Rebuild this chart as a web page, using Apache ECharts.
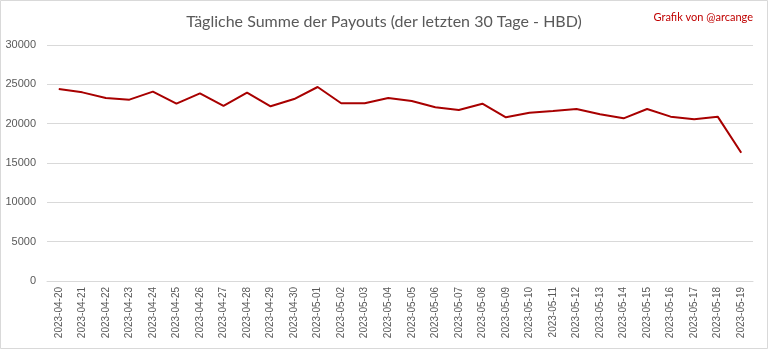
<!DOCTYPE html>
<html>
<head>
<meta charset="utf-8">
<script src="https://cdn.jsdelivr.net/npm/echarts@6/dist/echarts.min.js"></script>
<style>
  html, body { margin: 0; padding: 0; background: #fff; }
  #chart { width: 768px; height: 349px; }
</style>
</head>
<body>
<div id="chart"></div>
<script>
// Daily HBD payout totals over the last 30 days
const days = [
  '2023-04-20', '2023-04-21', '2023-04-22', '2023-04-23', '2023-04-24',
  '2023-04-25', '2023-04-26', '2023-04-27', '2023-04-28', '2023-04-29',
  '2023-04-30', '2023-05-01', '2023-05-02', '2023-05-03', '2023-05-04',
  '2023-05-05', '2023-05-06', '2023-05-07', '2023-05-08', '2023-05-09',
  '2023-05-10', '2023-05-11', '2023-05-12', '2023-05-13', '2023-05-14',
  '2023-05-15', '2023-05-16', '2023-05-17', '2023-05-18', '2023-05-19'
];
const payouts = [
  24400, 23980, 23260, 23050, 24070, 22540, 23860, 22250, 23940, 22210,
  23130, 24660, 22590, 22590, 23260, 22880, 22080, 21740, 22540, 20810,
  21400, 21610, 21860, 21190, 20680, 21860, 20890, 20550, 20890, 16310
];
const titleText = 'Tägliche Summe der Payouts (der letzten 30 Tage - HBD)';
const creditText = 'Grafik von @arcange';

const chart = echarts.init(document.getElementById('chart'), null, { renderer: 'canvas' });
chart.setOption({
  animation: false,
  backgroundColor: '#ffffff',
  title: [
    {
      text: titleText,
      left: 'center',
      top: 9,
      textStyle: { fontFamily: 'Lato', fontSize: 16, fontWeight: 'normal', color: '#595959' }
    },
    {
      text: creditText,
      right: 10,
      top: 7,
      textStyle: { fontFamily: 'Lato', fontSize: 11, fontWeight: 'normal', color: '#c00000' }
    }
  ],
  graphic: [{
    type: 'rect',
    shape: { x: 0.5, y: 0.5, width: 767, height: 348 },
    style: { fill: 'none', stroke: '#d9d9d9', lineWidth: 1 },
    silent: true
  }],
  grid: { left: 47, right: 15, top: 45, bottom: 68 },
  xAxis: {
    type: 'category',
    data: days,
    boundaryGap: true,
    axisLine: { lineStyle: { color: '#d9d9d9' } },
    axisTick: { show: false },
    axisLabel: {
      rotate: 90,
      interval: 0,
      margin: 6,
      fontFamily: 'Liberation Sans',
      fontSize: 10,
      color: '#595959'
    }
  },
  yAxis: {
    type: 'value',
    min: 0,
    max: 30000,
    interval: 5000,
    axisLine: { show: false },
    axisTick: { show: false },
    splitLine: { lineStyle: { color: '#d9d9d9' } },
    axisLabel: {
      margin: 11,
      fontFamily: 'Liberation Sans',
      fontSize: 11,
      color: '#595959',
      formatter: (v) => String(v)
    }
  },
  series: [{
    type: 'line',
    data: payouts,
    symbol: 'none',
    lineStyle: { color: '#a80000', width: 2 }
  }]
});
</script>
</body>
</html>
